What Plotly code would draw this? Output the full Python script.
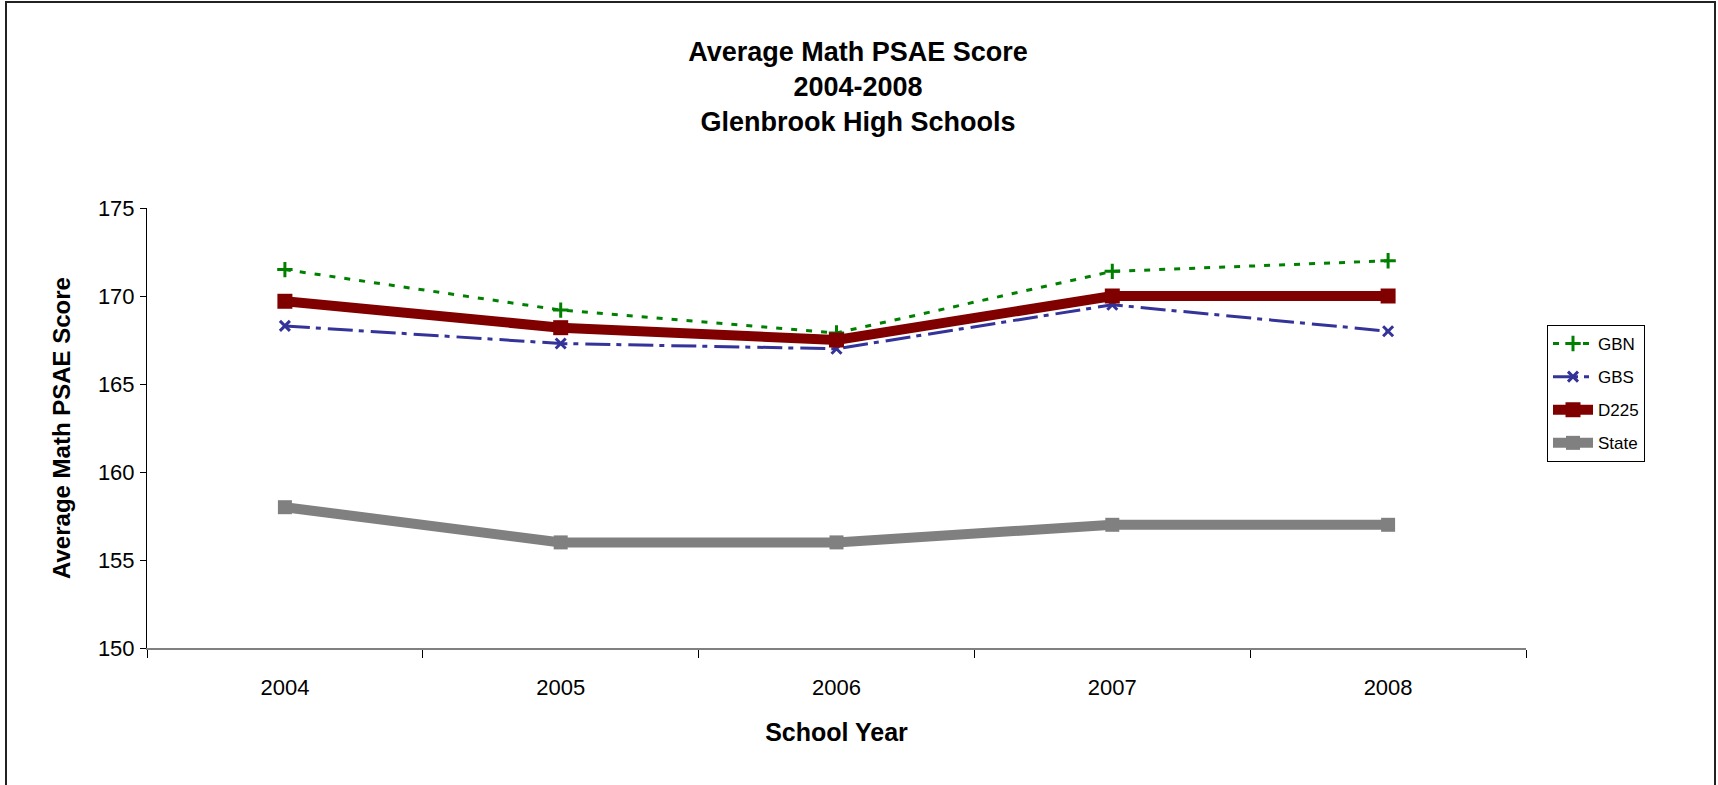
import plotly.graph_objects as go

years = ["2004", "2005", "2006", "2007", "2008"]
gbn = [171.5, 169.2, 167.9, 171.4, 172.0]
gbs = [168.3, 167.3, 167.0, 169.5, 168.0]
d225 = [169.7, 168.2, 167.5, 170.0, 170.0]
state = [158.0, 156.0, 156.0, 157.0, 157.0]
y_ticks = [150, 155, 160, 165, 170, 175]

W, H = 1718, 785
L, R, T, B = 147, 1526, 208, 648

fig = go.Figure()
fig.add_trace(go.Scatter(
    x=years, y=gbn, name="GBN", mode="lines+markers", legendgroup="a",
    line=dict(color="#008000", width=3, dash="6px,9px"),
    marker=dict(symbol="cross-thin-open", size=11, color="#008000",
                line=dict(color="#008000", width=3))))
fig.add_trace(go.Scatter(
    x=years, y=gbs, name="GBS", mode="lines+markers", legendgroup="b",
    line=dict(color="#333399", width=3, dash="25px,6px,5px,7px"),
    marker=dict(symbol="x-thin-open", size=10, color="#333399",
                line=dict(color="#333399", width=3))))
fig.add_trace(go.Scatter(
    x=years, y=d225, name="D225", mode="lines+markers", legendgroup="c",
    line=dict(color="#800000", width=10),
    marker=dict(symbol="square", size=15, color="#800000")))
fig.add_trace(go.Scatter(
    x=years, y=state, name="State", mode="lines+markers", legendgroup="d",
    line=dict(color="#808080", width=10),
    marker=dict(symbol="square", size=14, color="#808080")))

pw, ph = R - L, B - T
fig.add_shape(type="rect", xref="paper", yref="paper",
              x0=(6 - L) / pw, x1=(1715 - L) / pw,
              y0=(B - 800) / ph, y1=(B - 2) / ph,
              line=dict(color="#222222", width=2), fillcolor="rgba(0,0,0,0)")

fig.update_layout(
    width=W, height=H,
    margin=dict(l=L, r=W - R, t=T, b=H - B, pad=0),
    paper_bgcolor="white", plot_bgcolor="white",
    font=dict(family="Liberation Sans, Arial, sans-serif", color="black"),
    title=dict(
        text="Average Math PSAE Score<br>2004-2008<br>Glenbrook High Schools",
        font=dict(size=27, color="black", family="Liberation Sans, Arial, sans-serif", weight="bold"),
        x=858 / W, xref="container", xanchor="center",
        y=1 - 61 / H, yref="container", yanchor="top"),
    xaxis=dict(
        type="category", range=[-0.5, 4.5], tickson="boundaries",
        ticks="outside", ticklen=8, tickcolor="black", tickwidth=1,
        showline=True, linecolor="#808080", linewidth=2,
        showgrid=False, zeroline=False,
        tickfont=dict(size=22), ticklabelstandoff=19,
        title=dict(text="<b>School Year</b>", font=dict(size=25), standoff=24)),
    yaxis=dict(
        range=[150, 175], tickvals=y_ticks,
        ticks="outside", ticklen=6, tickcolor="black", tickwidth=1,
        showline=True, linecolor="black", linewidth=1,
        showgrid=False, zeroline=False,
        tickfont=dict(size=22), ticklabelstandoff=1,
        title=dict(text="<b>Average Math PSAE Score</b>", font=dict(size=24), standoff=20)),
    legend=dict(
        x=(1547 - L) / pw, xanchor="left",
        y=(B - 325) / ph, yanchor="top",
        bordercolor="black", borderwidth=1, bgcolor="white",
        font=dict(size=17), itemwidth=40,
        traceorder="grouped", tracegroupgap=8),
    showlegend=True,
)

fig.write_html("out.html", config={"displayModeBar": False},
               post_script="document.body.style.margin='0px';")
